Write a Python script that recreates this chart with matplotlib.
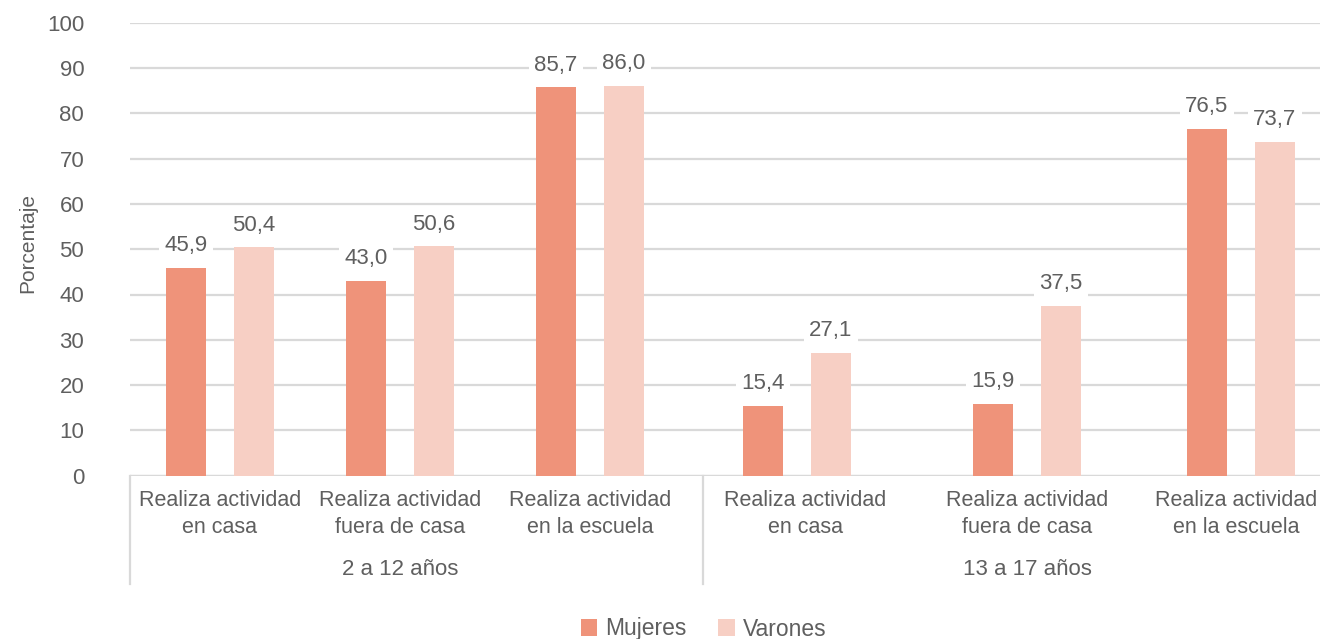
import matplotlib.pyplot as plt

# datos
categorias = ['Realiza actividad\nen casa', 'Realiza actividad\nfuera de casa',
              'Realiza actividad\nen la escuela',
              'Realiza actividad\nen casa', 'Realiza actividad\nfuera de casa',
              'Realiza actividad\nen la escuela']
grupos = ['2 a 12 años', '13 a 17 años']
mujeres = [45.9, 43.0, 85.7, 15.4, 15.9, 76.5]
varones = [50.4, 50.6, 86.0, 27.1, 37.5, 73.7]

# posiciones de las categorias (el original no las reparte por igual)
centros = [220, 400, 590, 797, 1027, 1241]
pos_textos = [220, 400, 590, 805, 1027, 1236]
separadores = [130, 702.5]
col_m = '#EF937A'
col_v = '#F7CFC4'
gris = '#5F5F5F'
linea = '#D9D9D9'
fs = 16

plt.rcParams['font.family'] = ['Liberation Sans', 'DejaVu Sans']

fig = plt.figure(figsize=(13.2, 6.39), dpi=100)
ax = fig.add_axes([130 / 1320, 1 - 475.7 / 639, 1 - 130 / 1320, 453 / 639])

ancho = 40
desp = 34
xm = [c - desp for c in centros]
xv = [c + desp for c in centros]
b1 = ax.bar(xm, mujeres, width=ancho, color=col_m, label='Mujeres', zorder=3)
b2 = ax.bar(xv, varones, width=ancho, color=col_v, label='Varones', zorder=3)

for barras, vals in ((b1, mujeres), (b2, varones)):
    for b, v in zip(barras, vals):
        ax.annotate(f'{v:.1f}'.replace('.', ','),
                    (b.get_x() + b.get_width() / 2, v),
                    xytext=(0, 16), textcoords='offset points',
                    ha='center', va='center', fontsize=fs, color=gris,
                    bbox=dict(boxstyle='square,pad=0.25', fc='white', ec='none'),
                    zorder=4)

ax.set_xlim(130, 1320)
ax.set_ylim(0, 100)
ax.set_yticks(range(0, 101, 10))
ax.tick_params(axis='y', length=0, pad=33, labelsize=fs, labelcolor=gris)
ax.tick_params(axis='x', length=0, labelbottom=False)
ax.grid(axis='y', color=linea, linewidth=1.6, zorder=0)
for s in ax.spines.values():
    s.set_visible(False)
ax.axhline(0, color=linea, linewidth=1.6, zorder=2)
ax.set_ylabel('Porcentaje', fontsize=15, color=gris)
ax.yaxis.set_label_coords(-0.078, 0.514)

# etiquetas de categorias y grupos
for c, t in zip(pos_textos, categorias):
    ax.text(c, -3.2, t, ha='center', va='top', fontsize=15.5, color=gris,
            linespacing=1.38, clip_on=False)
for c, g in zip([centros[1], centros[4]], grupos):
    ax.text(c, -20.8, g, ha='center', va='center', fontsize=fs, color=gris,
            clip_on=False)
for s in separadores:
    ax.plot([s, s], [0, -24], color=linea, linewidth=1.6, clip_on=False)

fig.legend(handles=[b1, b2], loc='center', bbox_to_anchor=(0.533, 1 - 629 / 639),
           ncol=2, frameon=False, fontsize=fs + 0.5, labelcolor=gris,
           handlelength=0.7, handleheight=0.7, handletextpad=0.35,
           columnspacing=1.4)

fig.savefig('out.png', dpi=100)
